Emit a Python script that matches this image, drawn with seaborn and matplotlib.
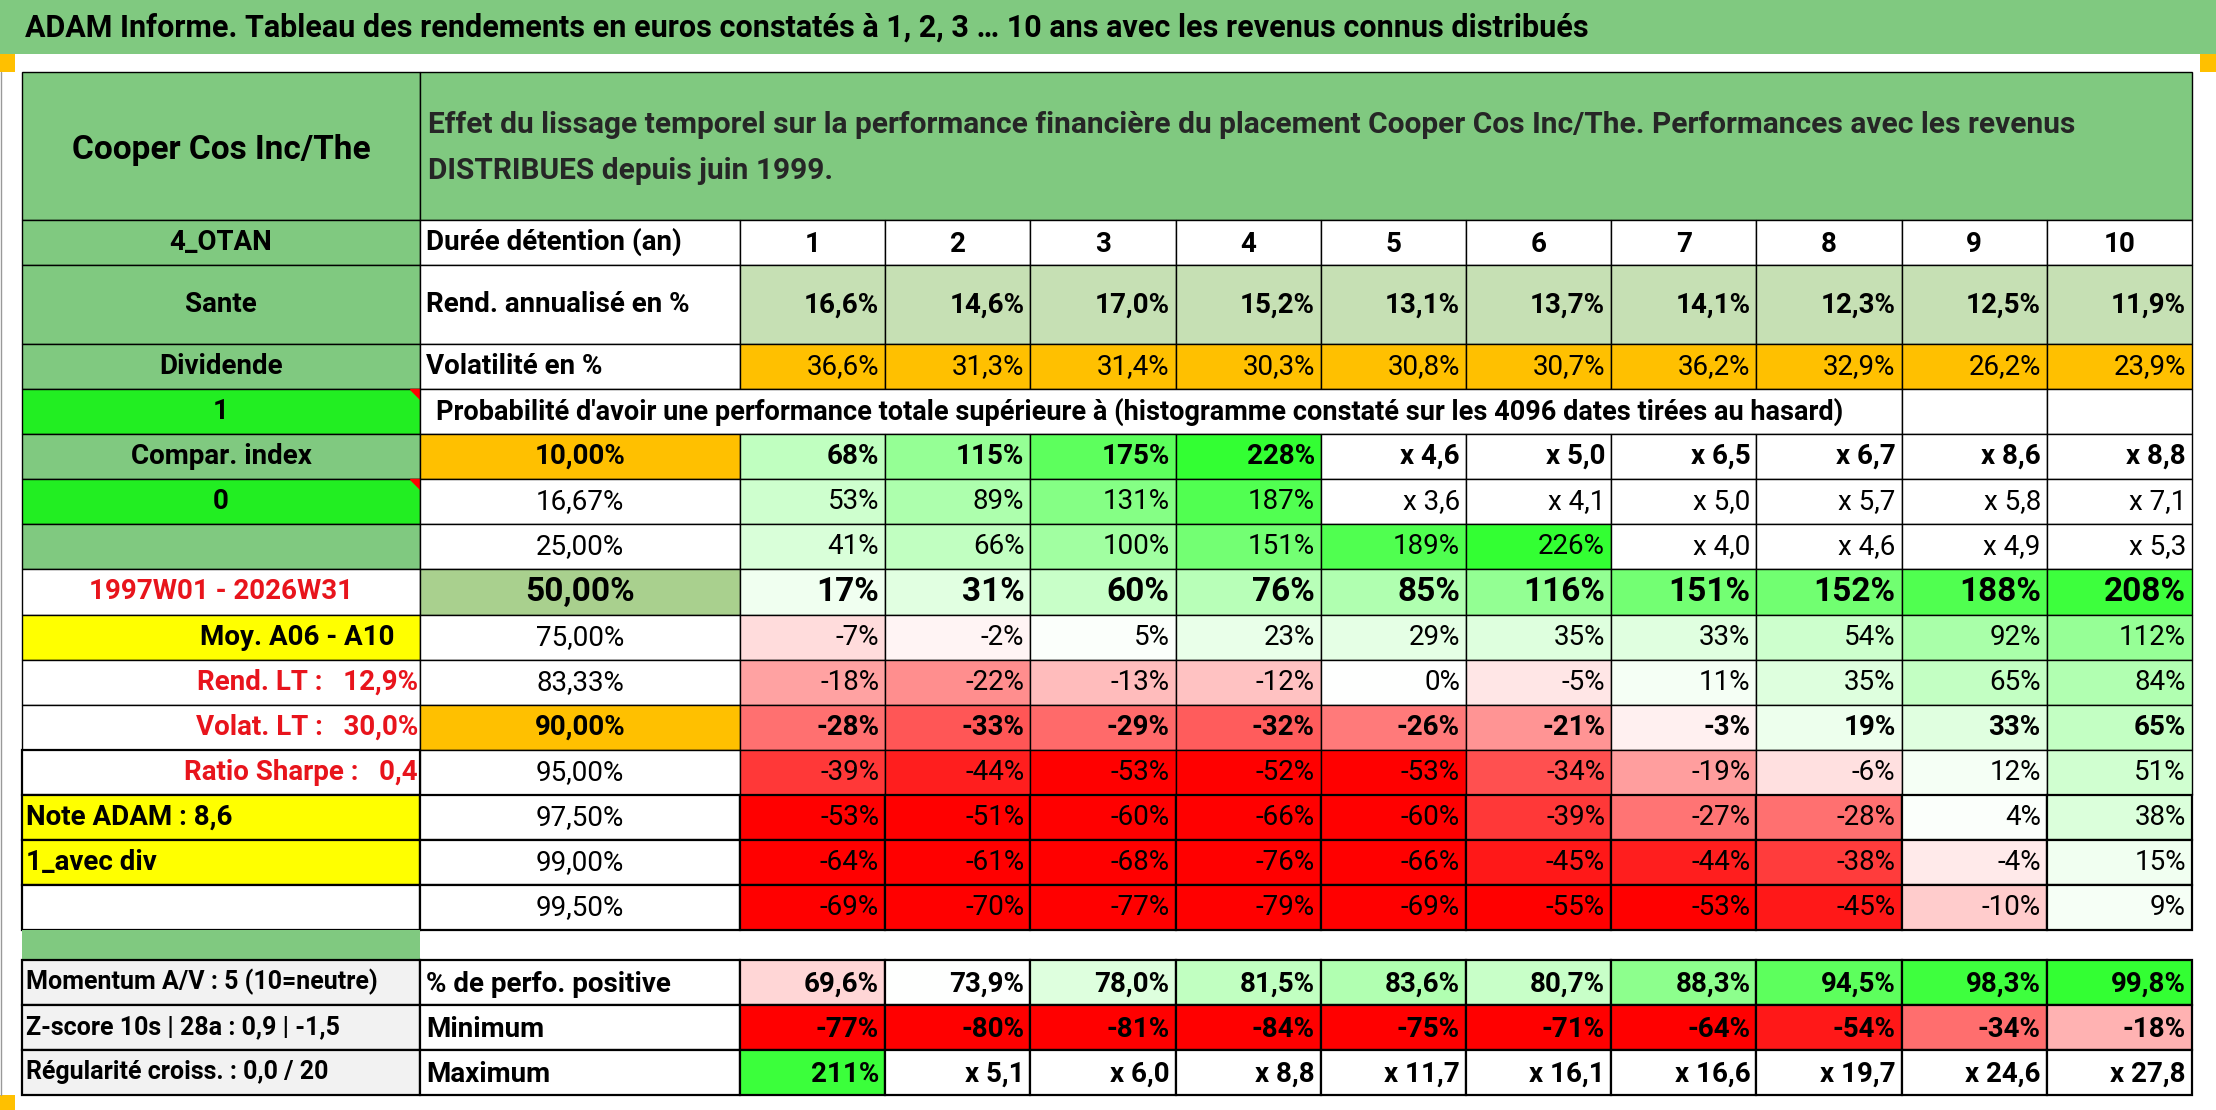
import numpy as np
import seaborn as sns
import matplotlib.pyplot as plt
from matplotlib.patches import Rectangle

# ---------
# Data
# ---------
durees = ["1", "2", "3", "4", "5", "6", "7", "8", "9", "10"]
rend_annualise = ["16,6%", "14,6%", "17,0%", "15,2%", "13,1%", "13,7%", "14,1%", "12,3%", "12,5%", "11,9%"]
volatilite = ["36,6%", "31,3%", "31,4%", "30,3%", "30,8%", "30,7%", "36,2%", "32,9%", "26,2%", "23,9%"]

seuils = ["10,00%", "16,67%", "25,00%", "50,00%", "75,00%", "83,33%",
          "90,00%", "95,00%", "97,50%", "99,00%", "99,50%"]
# None = multiple shown as "x n" (white cell)
proba = [
    [68, 115, 175, 228, None, None, None, None, None, None],
    [53, 89, 131, 187, None, None, None, None, None, None],
    [41, 66, 100, 151, 189, 226, None, None, None, None],
    [17, 31, 60, 76, 85, 116, 151, 152, 188, 208],
    [-7, -2, 5, 23, 29, 35, 33, 54, 92, 112],
    [-18, -22, -13, -12, 0, -5, 11, 35, 65, 84],
    [-28, -33, -29, -32, -26, -21, -3, 19, 33, 65],
    [-39, -44, -53, -52, -53, -34, -19, -6, 12, 51],
    [-53, -51, -60, -66, -60, -39, -27, -28, 4, 38],
    [-64, -61, -68, -76, -66, -45, -44, -38, -4, 15],
    [-69, -70, -77, -79, -69, -55, -53, -45, -10, 9],
]
multiples = [
    [None, None, None, None, "x 4,6", "x 5,0", "x 6,5", "x 6,7", "x 8,6", "x 8,8"],
    [None, None, None, None, "x 3,6", "x 4,1", "x 5,0", "x 5,7", "x 5,8", "x 7,1"],
    [None] * 6 + ["x 4,0", "x 4,6", "x 4,9", "x 5,3"],
]
bold_rows = [0, 3, 6]

perf_positive = [69.6, 73.9, 78.0, 81.5, 83.6, 80.7, 88.3, 94.5, 98.3, 99.8]
minimum = [-77, -80, -81, -84, -75, -71, -64, -54, -34, -18]
maximum = ["211%", "x 5,1", "x 6,0", "x 8,8", "x 11,7", "x 16,1", "x 16,6", "x 19,7", "x 24,6", "x 27,8"]

left_labels = ["4_OTAN", "Sante", "Dividende", "1", "Compar. index", "0", "",
               "1997W01 - 2026W31", "Moy. A06 - A10", "Rend. LT :   12,9%",
               "Volat. LT :   30,0%", "Ratio Sharpe :   0,4", "Note ADAM : 8,6",
               "1_avec div", ""]
bottom_left = ["Momentum A/V : 5 (10=neutre)", "Z-score 10s | 28a : 0,9 | -1,5",
               "Régularité croiss. : 0,0 / 20"]
bottom_mid = ["% de perfo. positive", "Minimum", "Maximum"]

title = "ADAM Informe. Tableau des rendements en euros constatés à 1, 2, 3 … 10 ans avec les revenus connus distribués"
desc = ("Effet du lissage temporel sur la performance financière du placement Cooper Cos Inc/The. Performances avec les revenus\n"
        "DISTRIBUES depuis juin 1999.")
proba_title = "Probabilité d'avoir une performance totale supérieure à (histogramme constaté sur les 4096 dates tirées au hasard)"

# ---------
# Style
# ---------
sns.set_style("white")
plt.rcParams['font.family'] = ['Liberation Sans Narrow', 'Roboto', 'DejaVu Sans']

GREEN = "#80c980"
LGREEN = "#c6e0b4"
MGREEN = "#a9d08e"
BGREEN = "#22ee22"
ORANGE = "#ffc000"
YELLOW = "#ffff00"
GRAY = "#f2f2f2"
RED_TXT = "#e8141c"
FS = 20

cmap = sns.blend_palette(["#ff0000", "#ffffff", "#33ff33"], as_cmap=True)


def score_color(v, neg_full=50, pos_full=220):
    if v < 0:
        s = 0.5 - 0.5 * min(1, -v / neg_full)
    else:
        s = 0.5 + 0.5 * min(1, v / pos_full)
    return cmap(s)


fig = plt.figure(figsize=(22.16, 11.10), dpi=100)
ax = fig.add_axes([0, 0, 1, 1])
ax.set_xlim(0, 2216)
ax.set_ylim(1110, 0)
ax.axis("off")

X0, X1, X2 = 22, 420, 740
CW = (2192 - X2) / 10
col_x = [X2 + i * CW for i in range(11)]
RH = 45.1


def cell(x, y, w, h, fc="white", lw=1.0):
    ax.add_patch(Rectangle((x, y), w, h, facecolor=fc, edgecolor="black", lw=lw))


def txt(x, y, s, ha="center", size=FS, weight="normal", color="black"):
    ax.text(x, y, s, ha=ha, va="center", fontsize=size, fontweight=weight, color=color)


# title bar and border
ax.add_patch(Rectangle((0, 0), 2216, 54, facecolor=GREEN, edgecolor="none"))
txt(25, 28, title, ha="left", size=22, weight="bold")
ax.add_patch(Rectangle((0, 54), 15, 18, facecolor=ORANGE, edgecolor="none"))
ax.add_patch(Rectangle((2200, 54), 16, 18, facecolor=ORANGE, edgecolor="none"))
ax.add_patch(Rectangle((0, 1095), 15, 15, facecolor=ORANGE, edgecolor="none"))
ax.plot([1, 1], [72, 1095], color="#999999", lw=1)

# header
cell(X0, 72, X1 - X0, 148, GREEN)
cell(X1, 72, 2192 - X1, 148, GREEN)
txt((X0 + X1) / 2, 150, "Cooper Cos Inc/The", size=24, weight="bold")
ax.text(X1 + 8, 148, desc, ha="left", va="center", fontsize=21.5, fontweight="bold", linespacing=1.8)

# row y positions
y_dur, y_rend, y_vol = 220, 265, 344
y_main = 389

# left labels column
left_rows = [(220, 45), (265, 79), (344, 45)] + [(y_main + i * RH, RH) for i in range(12)]
left_fc = [GREEN, GREEN, GREEN, BGREEN, GREEN, BGREEN, GREEN, "white", YELLOW,
           "white", "white", "white", YELLOW, YELLOW, "white"]
for i, ((y, h), lab, fc) in enumerate(zip(left_rows, left_labels, left_fc)):
    cell(X0, y, X1 - X0, h, fc, lw=1.6 if i >= 11 else 1.0)
    yc = y + h / 2
    if i <= 6:
        txt((X0 + X1) / 2, yc, lab, weight="bold")
    elif i == 7:
        txt((X0 + X1) / 2, yc, lab, weight="bold", color=RED_TXT)
    elif i == 8:
        txt(X1 - 25, yc, lab, ha="right", weight="bold")
    elif i in (9, 10, 11):
        txt(X1 - 2, yc, lab, ha="right", weight="bold", color=RED_TXT)
    else:
        txt(X0 + 4, yc, lab, ha="left", weight="bold")
# little red comment markers
for yy in (389, y_main + 2 * RH):
    ax.add_patch(plt.Polygon([[X1 - 10, yy], [X1, yy], [X1, yy + 10]], color="red"))

# Durée / Rend / Vol rows
cell(X1, y_dur, X2 - X1, 45)
txt(X1 + 6, y_dur + 22, "Durée détention (an)", ha="left", weight="bold")
cell(X1, y_rend, X2 - X1, 79)
txt(X1 + 6, y_rend + 40, "Rend. annualisé en %", ha="left", weight="bold")
cell(X1, y_vol, X2 - X1, 45)
txt(X1 + 6, y_vol + 22, "Volatilité en %", ha="left", weight="bold")
for j in range(10):
    x, w = col_x[j], CW
    cell(x, y_dur, w, 45)
    txt(x + w / 2, y_dur + 24, durees[j], weight="bold")
    cell(x, y_rend, w, 79, LGREEN)
    txt(x + w - 6, y_rend + 40, rend_annualise[j], ha="right", weight="bold")
    cell(x, y_vol, w, 45, ORANGE)
    txt(x + w - 6, y_vol + 23, volatilite[j], ha="right")

# probability title row
cell(X1, y_main, col_x[8] - X1, RH)
cell(col_x[8], y_main, CW, RH)
cell(col_x[9], y_main, CW, RH)
txt(X1 + 16, y_main + RH / 2, proba_title, ha="left", size=19.5, weight="bold")

# probability block
for i, row in enumerate(proba):
    y = y_main + (i + 1) * RH
    lw = 1.6 if i >= 8 else 1.0
    fc = ORANGE if i in (0, 6) else (MGREEN if i == 3 else "white")
    cell(X1, y, X2 - X1, RH, fc, lw=lw)
    big = i == 3
    txt((X1 + X2) / 2, y + RH / 2, seuils[i], size=24 if big else FS,
        weight="bold" if i in bold_rows else "normal")
    for j, v in enumerate(row):
        x = col_x[j]
        if v is None:
            cell(x, y, CW, RH, "white", lw=lw)
            s = multiples[i][j]
        else:
            cell(x, y, CW, RH, score_color(v), lw=lw)
            s = f"{v}%"
        txt(x + CW - 6, y + RH / 2, s, ha="right", size=24 if big else FS,
            weight="bold" if i in bold_rows else "normal")

# spacer row
y_gap = y_main + 12 * RH
ax.add_patch(Rectangle((X0, y_gap), X1 - X0, 30, facecolor=GREEN, edgecolor="none"))
y_b = y_gap + 30

# bottom rows
pmin, pmax = min(perf_positive), max(perf_positive)
for k in range(3):
    y = y_b + k * 45
    cell(X0, y, X1 - X0, 45, GRAY, lw=1.6)
    txt(X0 + 4, y + 22, bottom_left[k], ha="left", size=18, weight="bold")
    cell(X1, y, X2 - X1, 45, lw=1.6)
    txt(X1 + 6, y + 24, bottom_mid[k], ha="left", weight="bold")
    for j in range(10):
        x = col_x[j]
        if k == 0:
            v = perf_positive[j]
            fc = cmap(0.42 + 0.58 * (v - pmin) / (pmax - pmin))
            s = f"{v:.1f}%".replace(".", ",")
        elif k == 1:
            v = minimum[j]
            fc = score_color(v, neg_full=60)
            s = f"{v}%"
        else:
            s = maximum[j]
            fc = score_color(211) if s.endswith("%") else "white"
        cell(x, y, CW, 45, fc, lw=1.6)
        txt(x + CW - 6, y + 24, s, ha="right", weight="bold")

fig.savefig("out.png", dpi=100)
